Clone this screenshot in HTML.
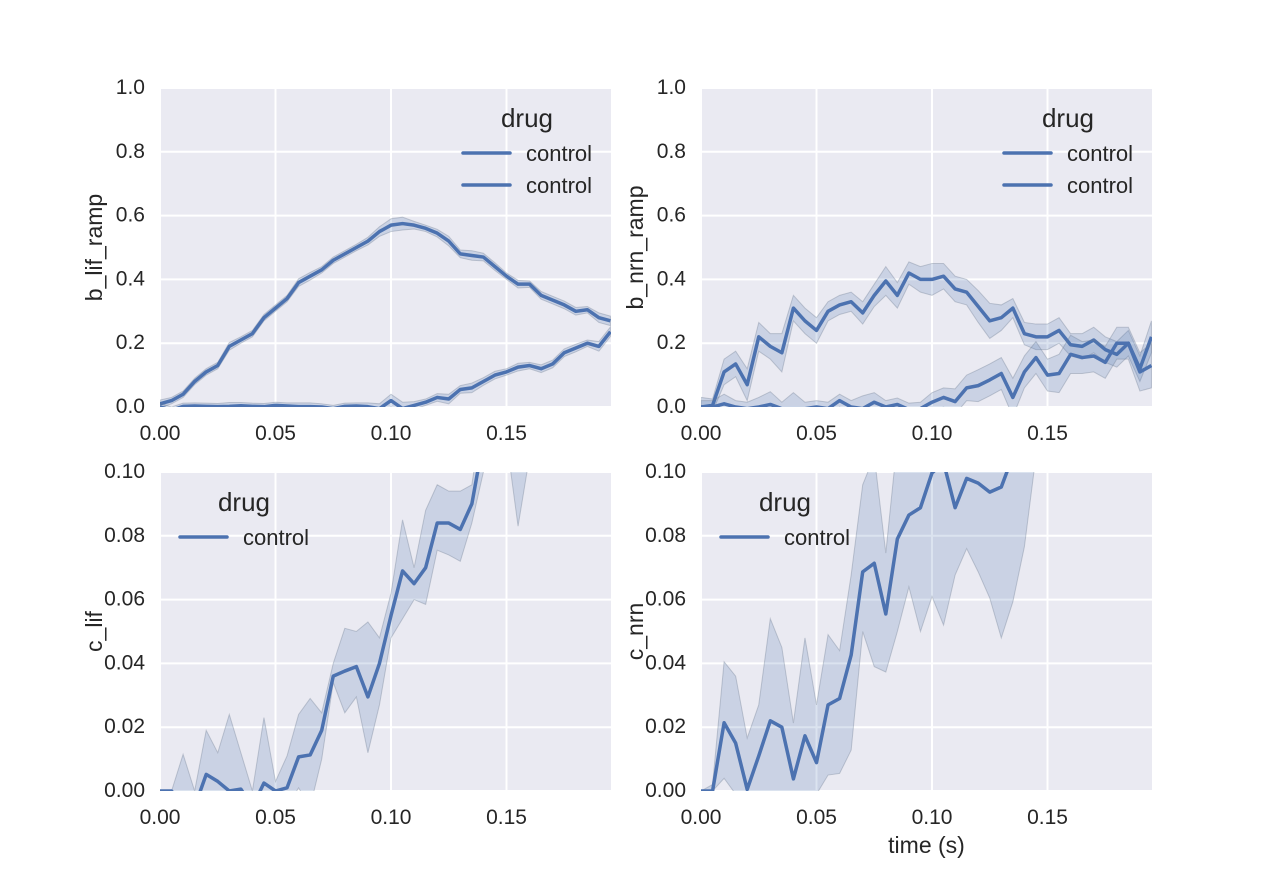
<!DOCTYPE html>
<html><head><meta charset="utf-8"><style>
body{margin:0;background:#fff;}
svg text{font-family:"Liberation Sans",sans-serif;fill:#262626;}
</style></head><body>
<svg id="c" width="1280" height="880"></svg>
<script>
const xTicks=[0,0.05,0.10,0.15];
const xTickLabels=["0.00","0.05","0.10","0.15"];
const yTicksTop=[0,0.2,0.4,0.6,0.8,1.0];
const yTickLabelsTop=["0.0","0.2","0.4","0.6","0.8","1.0"];
const yTicksBot=[0,0.02,0.04,0.06,0.08,0.10];
const yTickLabelsBot=["0.00","0.02","0.04","0.06","0.08","0.10"];
const times=Array.from({length:40},(_,i)=>i*0.005);
const lifRampA=[0.01,0.02,0.04,0.08,0.11,0.13,0.19,0.21,0.23,0.28,0.31,0.34,0.39,0.41,0.43,0.46,0.48,0.50,0.52,0.55,0.57,0.575,0.57,0.56,0.545,0.52,0.48,0.475,0.47,0.44,0.41,0.385,0.385,0.35,0.335,0.32,0.30,0.305,0.28,0.27];
const lifRampB=[0,-0.01,0.002,0.003,0.002,0.001,0.002,0.004,0.002,0.001,0.005,0.003,0.001,0.001,0,-0.005,0.002,0.003,0.001,-0.005,0.02,-0.005,0.005,0.015,0.03,0.025,0.055,0.06,0.08,0.1,0.11,0.125,0.13,0.12,0.135,0.17,0.185,0.2,0.19,0.236];
const lifRampCI=[0.012,0.01,0.01,0.01,0.01,0.01,0.012,0.01,0.01,0.01,0.01,0.01,0.012,0.012,0.01,0.01,0.01,0.01,0.012,0.015,0.02,0.02,0.012,0.01,0.012,0.015,0.012,0.015,0.012,0.012,0.01,0.012,0.01,0.012,0.012,0.012,0.012,0.01,0.015,0.015];
const nrnRampA=[0,0.005,0.11,0.135,0.07,0.22,0.19,0.17,0.31,0.27,0.24,0.30,0.32,0.33,0.295,0.35,0.395,0.35,0.42,0.40,0.40,0.41,0.37,0.36,0.315,0.27,0.28,0.31,0.23,0.22,0.22,0.24,0.195,0.19,0.21,0.18,0.165,0.20,0.12,0.22];
const nrnRampB=[0,0,0.01,0,-0.005,0,0.008,-0.005,-0.005,-0.005,0,-0.005,0.02,0,-0.005,0.015,0,0.008,-0.008,-0.005,0.015,0.03,0.017,0.06,0.067,0.085,0.105,0.03,0.11,0.155,0.10,0.105,0.165,0.155,0.16,0.14,0.20,0.20,0.11,0.13];
const nrnRampCIA=[0.03,0.02,0.04,0.04,0.05,0.045,0.04,0.06,0.04,0.04,0.04,0.03,0.03,0.03,0.035,0.035,0.045,0.04,0.035,0.04,0.05,0.04,0.04,0.04,0.05,0.055,0.04,0.03,0.035,0.04,0.04,0.04,0.035,0.04,0.04,0.04,0.04,0.04,0.04,0.05];
const nrnRampCIB=[0.02,0.02,0.03,0.02,0.02,0.03,0.04,0.02,0.05,0.02,0.02,0.02,0.02,0.02,0.04,0.03,0.02,0.02,0.02,0.02,0.03,0.03,0.04,0.04,0.05,0.05,0.05,0.06,0.05,0.05,0.05,0.06,0.06,0.05,0.05,0.05,0.05,0.05,0.06,0.07];
const cLif=[0,0,-0.005,-0.005,0.0052,0.003,0,0.0006,-0.005,0.0025,0,0.001,0.0107,0.0113,0.019,0.036,0.0376,0.039,0.0295,0.04,0.055,0.069,0.065,0.070,0.084,0.084,0.082,0.090,0.11,0.13,0.14,0.15,0.16,0.17,0.18,0.19,0.2,0.21,0.22,0.23];
const cLifHi=[0,0,0.0115,0,0.019,0.012,0.024,0.012,0,0.023,0.003,0.011,0.024,0.029,0.0245,0.04,0.051,0.050,0.053,0.048,0.062,0.085,0.070,0.088,0.096,0.094,0.094,0.096,0.12,0.14,0.15,0.16,0.17,0.18,0.19,0.2,0.21,0.22,0.23,0.24];
const cLifLo=[0,-0.01,-0.01,-0.01,-0.005,-0.01,-0.01,-0.01,-0.01,-0.01,-0.01,-0.005,0.001,-0.005,0.01,0.034,0.0245,0.0295,0.012,0.027,0.048,0.054,0.060,0.0585,0.0755,0.074,0.072,0.084,0.1,0.11,0.11,0.083,0.105,0.12,0.13,0.14,0.15,0.16,0.17,0.18];
const cNrn=[0,0,0.0214,0.015,0.0005,0.011,0.022,0.020,0.0038,0.0173,0.0089,0.027,0.029,0.0426,0.0687,0.0714,0.0555,0.079,0.0865,0.0888,0.0997,0.103,0.0888,0.098,0.0965,0.0937,0.0953,0.105,0.12,0.13,0.14,0.15,0.16,0.17,0.18,0.19,0.2,0.21,0.22,0.23];
const cNrnHi=[0,0.002,0.0405,0.036,0.0166,0.027,0.054,0.045,0.0213,0.048,0.027,0.049,0.044,0.0677,0.096,0.105,0.0746,0.11,0.12,0.13,0.14,0.14,0.14,0.14,0.14,0.14,0.14,0.14,0.14,0.15,0.16,0.17,0.18,0.19,0.2,0.21,0.22,0.23,0.24,0.25];
const cNrnLo=[0,0,0.004,-0.001,-0.005,-0.005,-0.005,-0.005,-0.005,-0.005,-0.001,0.005,0.0055,0.0128,0.05,0.039,0.0373,0.05,0.064,0.05,0.061,0.052,0.0677,0.076,0.0687,0.0605,0.048,0.0593,0.0766,0.105,0.12,0.13,0.14,0.15,0.16,0.17,0.18,0.19,0.2,0.21];

const NS="http://www.w3.org/2000/svg";
const svg=document.getElementById('c');
function mk(tag,attrs,parent){const e=document.createElementNS(NS,tag);for(const k in attrs)e.setAttribute(k,attrs[k]);(parent||svg).appendChild(e);return e;}
const COL="#4c72b0";
const panels=[
 {id:"b-lif-ramp",x0:160,y0:88,ylab:"b_lif_ramp",ymax:1.0,yt:yTicksTop,ytl:yTickLabelsTop,legend:"top",
  series:[{m:lifRampA,lo:lifRampA.map((v,i)=>v-lifRampCI[i]),hi:lifRampA.map((v,i)=>v+lifRampCI[i])},
          {m:lifRampB,lo:lifRampB.map((v,i)=>v-lifRampCI[i]),hi:lifRampB.map((v,i)=>v+lifRampCI[i])}]},
 {id:"b-nrn-ramp",x0:701,y0:88,ylab:"b_nrn_ramp",ymax:1.0,yt:yTicksTop,ytl:yTickLabelsTop,legend:"top",
  series:[{m:nrnRampA,lo:nrnRampA.map((v,i)=>v-nrnRampCIA[i]),hi:nrnRampA.map((v,i)=>v+nrnRampCIA[i])},
          {m:nrnRampB,lo:nrnRampB.map((v,i)=>v-nrnRampCIB[i]),hi:nrnRampB.map((v,i)=>v+nrnRampCIB[i])}]},
 {id:"c-lif",x0:160,y0:472,ylab:"c_lif",ymax:0.1,yt:yTicksBot,ytl:yTickLabelsBot,legend:"bot",
  series:[{m:cLif,lo:cLifLo,hi:cLifHi}]},
 {id:"c-nrn",x0:701,y0:472,ylab:"c_nrn",ymax:0.1,yt:yTicksBot,ytl:yTickLabelsBot,legend:"bot",xlab:"time (s)",
  series:[{m:cNrn,lo:cNrnLo,hi:cNrnHi}]}
];
const W=451,H=319,XMAX=W/2310;
panels.forEach((p,pi)=>{
  const g=mk('g',{});
  
  
  const xs=v=>p.x0+v/XMAX*W, ys=v=>p.y0+H-v/p.ymax*H;
  const bg=mk('rect',{x:p.x0,y:p.y0,width:W,height:H,fill:"#eaeaf2"},g);
  
  
  const cp=mk('clipPath',{id:'cp'+pi},g);mk('rect',{x:p.x0,y:p.y0,width:W,height:H},cp);
  xTicks.forEach((t,i)=>{
    const gl=mk('line',{x1:xs(t),x2:xs(t),y1:p.y0,y2:p.y0+H,stroke:"#fff","stroke-width":2},g);
    
    
    const tl=mk('text',{x:xs(t),y:p.y0+H+33,"text-anchor":"middle","font-size":21},g);tl.textContent=xTickLabels[i];
    
    
  });
  p.yt.forEach((t,i)=>{
    const gl=mk('line',{x1:p.x0,x2:p.x0+W,y1:ys(t),y2:ys(t),stroke:"#fff","stroke-width":2},g);
    
    
    const tl=mk('text',{x:p.x0-15,y:ys(t)+6,"text-anchor":"end","font-size":21},g);tl.textContent=p.ytl[i];
    
    
  });
  const cg=mk('g',{"clip-path":`url(#cp${pi})`},g);
  p.series.forEach((s,si)=>{
    let d="M"+times.map((t,i)=>xs(t)+","+ys(s.hi[i])).join("L");
    d+="L"+times.map((t,i)=>xs(t)+","+ys(s.lo[i])).reverse().join("L")+"Z";
    const band=mk('path',{d,fill:COL,"fill-opacity":0.2,stroke:"#6d7a90","stroke-opacity":0.35,"stroke-width":1},cg);
    
    
    const ln=mk('polyline',{points:times.map((t,i)=>xs(t)+","+ys(s.m[i])).join(" "),fill:"none",stroke:COL,"stroke-width":3.5,"stroke-linejoin":"round"},cg);
    
    
  });
  const yl=mk('text',{transform:`translate(${p.x0-58},${p.y0+H/2}) rotate(-90)`,"text-anchor":"middle","font-size":23},g);yl.textContent=p.ylab;
  
  
  if(p.xlab){const xl=mk('text',{x:p.x0+W/2,y:853,"text-anchor":"middle","font-size":23},g);xl.textContent=p.xlab;
    
    }
  const lg=mk('g',{},g);
  
  
  const ents=p.legend==="top"?[153,185]:[537];
  const lx=p.legend==="top"?p.x0+303:p.x0+20;
  const title=mk('text',{x:lx+64,y:p.y0+39,"text-anchor":"middle","font-size":26},lg);title.textContent="drug";
  
  
  ents.forEach(ly=>{
    mk('line',{x1:lx,x2:lx+47,y1:ly,y2:ly,stroke:COL,"stroke-width":3.5,"stroke-linecap":"round"},lg);
    const et=mk('text',{x:lx+63,y:ly+8,"font-size":22},lg);et.textContent="control";
    
    
  });
});
</script>
</body></html>
